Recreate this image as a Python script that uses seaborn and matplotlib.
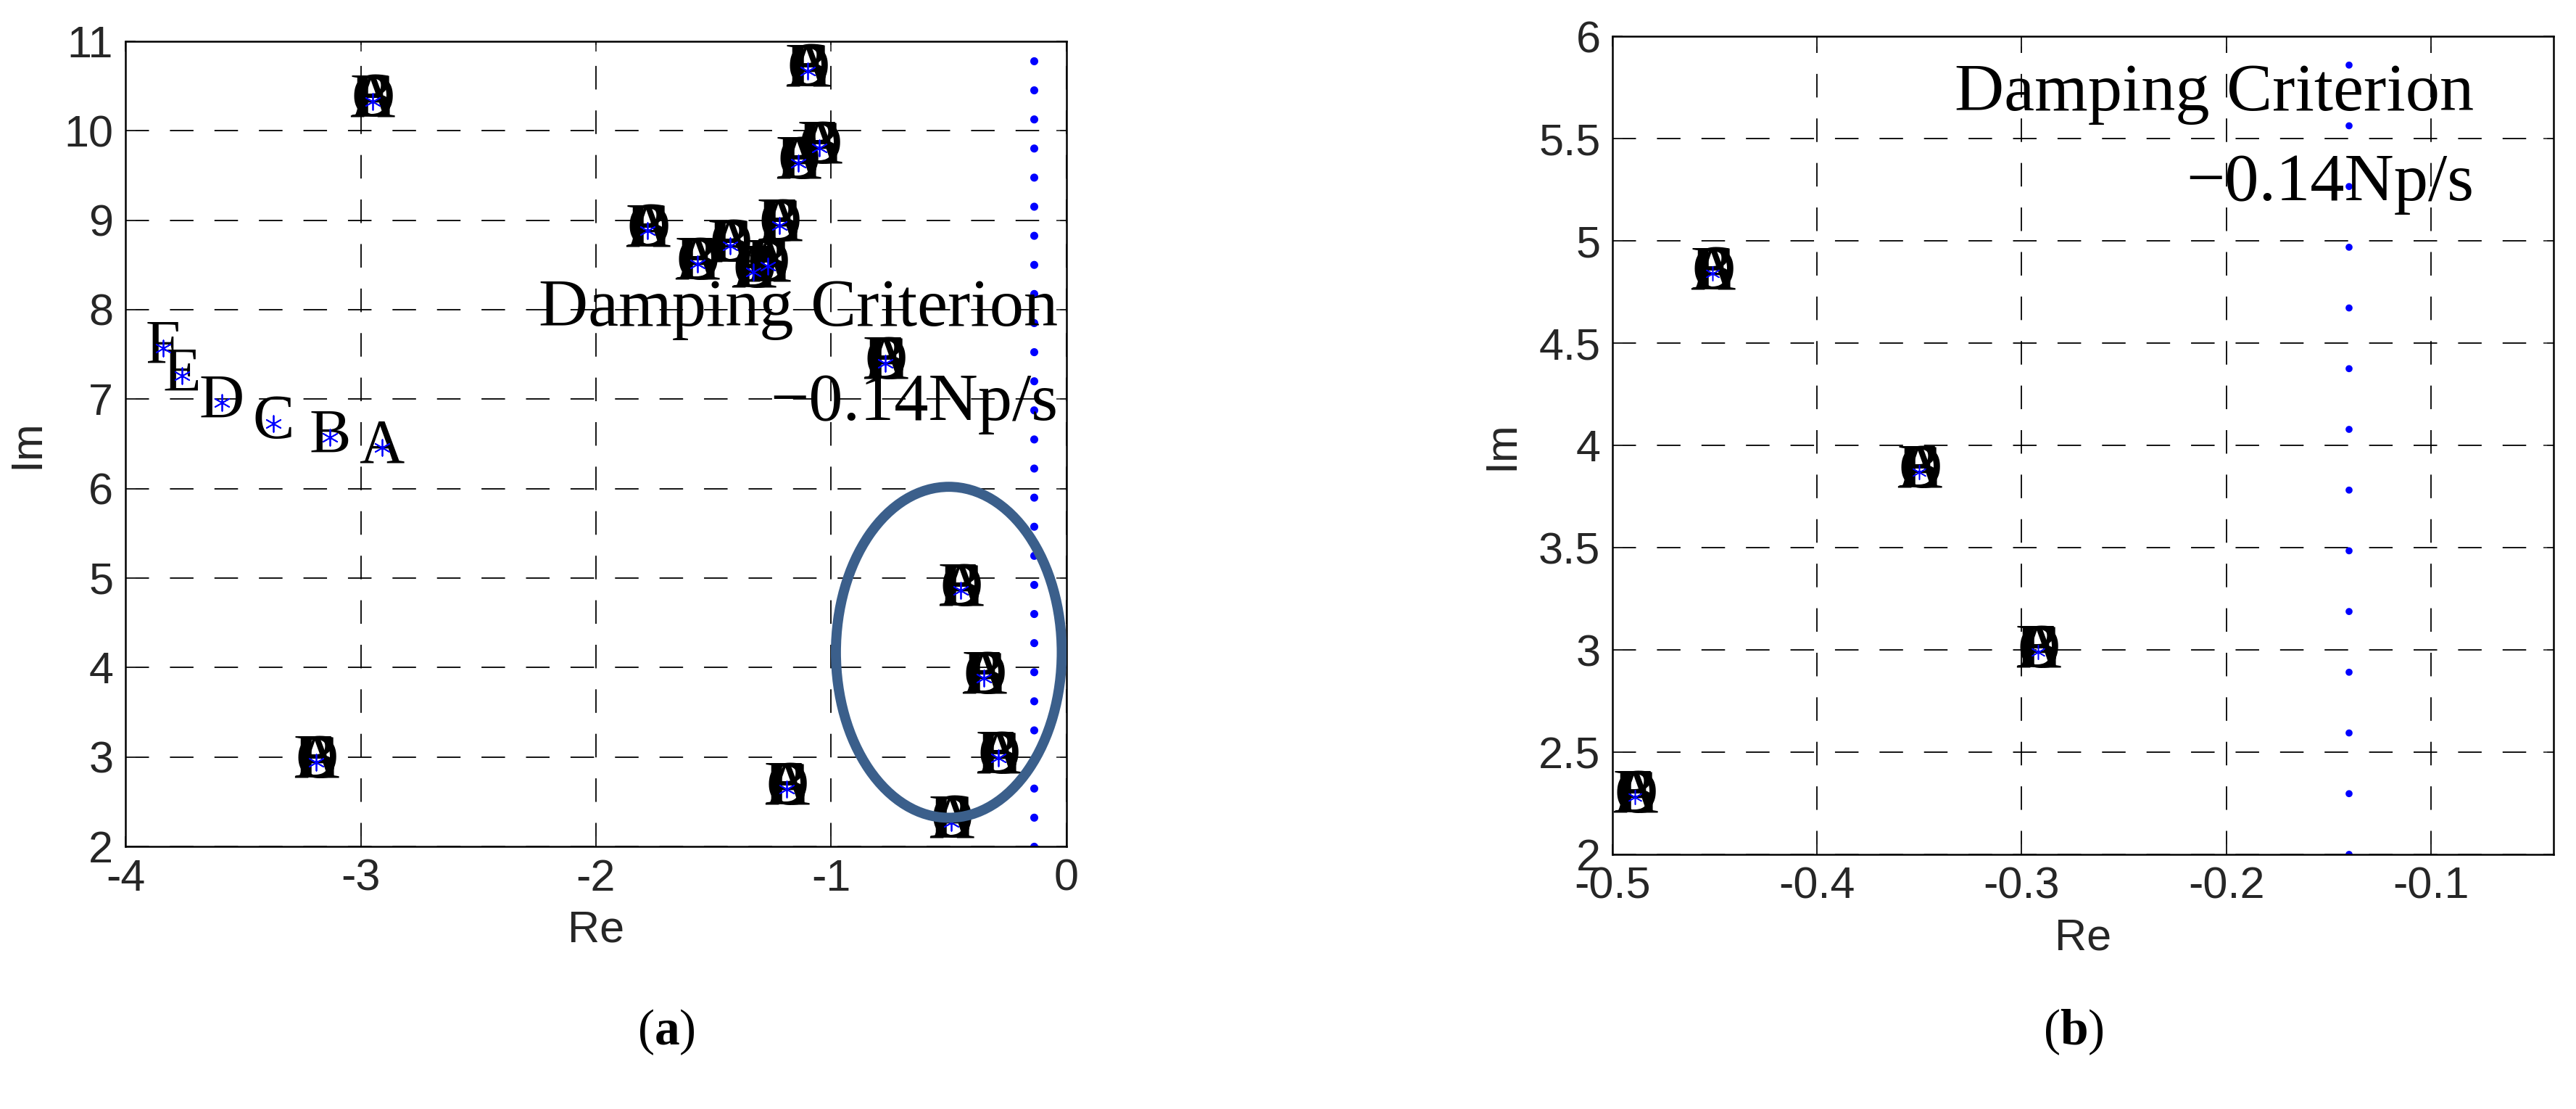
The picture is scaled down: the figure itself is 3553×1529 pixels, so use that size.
import matplotlib
matplotlib.use("Agg")
import matplotlib.pyplot as plt
import seaborn as sns
import pandas as pd
from matplotlib.patches import Ellipse

sns.set_style("white")
plt.rcParams["font.family"] = ["Liberation Sans", "DejaVu Sans"]
plt.rcParams["mathtext.fontset"] = "custom"
plt.rcParams["mathtext.bf"] = "Liberation Serif:bold"
plt.rcParams["mathtext.rm"] = "Liberation Serif"

letters = ["A", "B", "C", "D", "E", "F"]

# Panel (a): overlapping clusters of modes A-F
left_re = [-2.95, -1.10, -1.05, -1.14, -1.78, -1.22, -1.43, -1.57, -1.33, -1.27,
           -0.77, -0.45, -0.35, -0.29, -0.49, -1.19, -3.19]
left_im = [10.33, 10.67, 9.81, 9.64, 8.88, 8.94, 8.71, 8.51, 8.42, 8.49,
           7.40, 4.86, 3.88, 2.99, 2.27, 2.64, 2.94]
# Panel (a): spread-out trajectory F..A
traj_re = [-3.84, -3.76, -3.59, -3.37, -3.13, -2.91]
traj_im = [7.57, 7.26, 6.96, 6.73, 6.57, 6.46]
traj_lab = ["F", "E", "D", "C", "B", "A"]

# Panel (b): zoom
right_re = [-0.451, -0.350, -0.292, -0.489]
right_im = [4.84, 3.87, 2.99, 2.28]

criterion = -0.14

fig = plt.figure(figsize=(35.53, 15.29), dpi=100)
axL = fig.add_axes([0.0487, 0.2368, 0.3653, 0.7259])
axR = fig.add_axes([0.626, 0.2296, 0.3653, 0.7374])

tick_fs = 44
letter_font = dict(family="Liberation Serif", fontsize=62, color="black",
                   ha="center", va="center")
serif = dict(family="Liberation Serif", color="black")
ast = (6, 2, 0)

def style(ax, xlim, ylim, xt, yt, xtl):
    ax.set_xlim(*xlim)
    ax.set_ylim(*ylim)
    ax.set_xticks(xt)
    ax.set_xticklabels(xtl)
    ax.set_yticks(yt)
    ax.set_yticklabels([("%g" % v) for v in yt])
    ax.grid(True, color="black", linestyle=(0, (18, 16)), linewidth=1.3)
    ax.tick_params(direction="in", length=10, width=1.2, labelsize=tick_fs,
                   top=True, right=True, bottom=True, left=True, pad=12)
    for s in ax.spines.values():
        s.set_color("black")
        s.set_linewidth(1.8)
    ax.set_xlabel("Re", fontsize=tick_fs, labelpad=10)
    ax.set_ylabel("Im", fontsize=tick_fs, labelpad=16)

# ---- panel (a)
style(axL, (-4, 0), (2, 11), [-4, -3, -2, -1, 0], list(range(2, 12)),
      ["-4", "-3", "-2", "-1", "0"])
axL.axvline(criterion, ymin=0, ymax=(10.85 - 2) / 9, color="blue", linewidth=8,
            linestyle=(0, (0.01, 3.6)), dash_capstyle="round", zorder=2)
for x, y in zip(left_re, left_im):
    for L in letters:
        axL.text(x, y, L, zorder=3, **letter_font)
for x, y, L in zip(traj_re, traj_im, traj_lab):
    axL.text(x, y, L, zorder=3, **letter_font)
dfL = pd.DataFrame({"re": left_re + traj_re, "im": left_im + traj_im})
sns.scatterplot(data=dfL, x="re", y="im", ax=axL, marker=ast, s=260,
                color="blue", linewidth=1.3, zorder=4, legend=False)
axL.add_patch(Ellipse((-0.5, 4.17), 0.96, 3.7, fill=False,
                      edgecolor="#3b5f8b", linewidth=10, zorder=5))
axL.text(-0.035, 8.0, "Damping Criterion", fontsize=68, ha="right",
         va="center", zorder=6, **serif)
axL.text(-0.035, 6.95, "\u22120.14Np/s", fontsize=68, ha="right",
         va="center", zorder=6, **serif)

# ---- panel (b)
style(axR, (-0.5, -0.04), (2, 6), [-0.5, -0.4, -0.3, -0.2, -0.1],
      [2, 2.5, 3, 3.5, 4, 4.5, 5, 5.5, 6],
      ["-0.5", "-0.4", "-0.3", "-0.2", "-0.1"])
axR.axvline(criterion, ymin=0, ymax=(5.9 - 2) / 4, color="blue", linewidth=7,
            linestyle=(0, (0.01, 8.6)), dash_capstyle="round", zorder=2)
for x, y in zip(right_re, right_im):
    for L in letters:
        axR.text(x, y, L, zorder=3, **letter_font)
dfR = pd.DataFrame({"re": right_re, "im": right_im})
sns.scatterplot(data=dfR, x="re", y="im", ax=axR, marker=ast, s=200,
                color="blue", linewidth=1.1, zorder=4, legend=False)
axR.text(-0.079, 5.72, "Damping Criterion", fontsize=68, ha="right",
         va="center", zorder=6, **serif)
axR.text(-0.079, 5.28, "\u22120.14Np/s", fontsize=68, ha="right",
         va="center", zorder=6, **serif)

fig.text(0.2585, 0.069, r"($\mathbf{a}$)", fontsize=50, ha="center",
         va="center", **serif)
fig.text(0.805, 0.069, r"($\mathbf{b}$)", fontsize=50, ha="center",
         va="center", **serif)

fig.savefig("out.png", dpi=100)
